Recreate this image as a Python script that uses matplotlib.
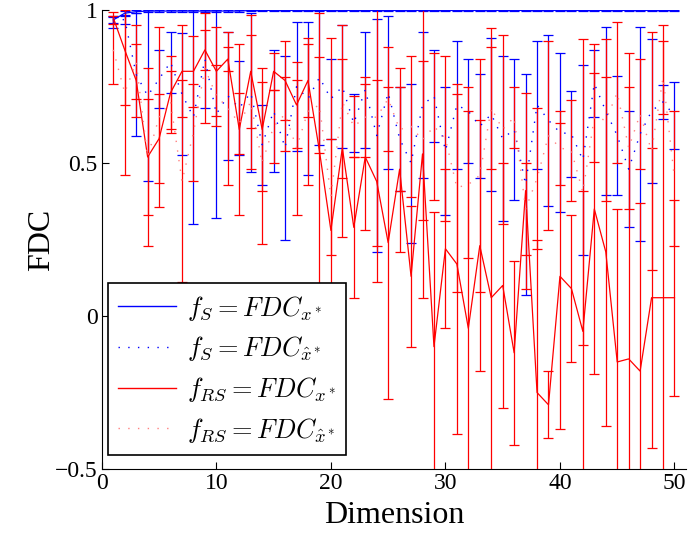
import numpy as np
import matplotlib.pyplot as plt
from matplotlib.lines import Line2D

# =========================
# DATA
# =========================
dims = np.arange(1, 51)

# f_S = FDC_{x*}
fs_x = [0.968, 0.99, 0.995, 0.997, 0.997, 0.997, 0.997, 0.997, 0.997, 0.997,
        0.997, 0.997] + [0.999] * 38
fs_x_err = [0.01, 0.008, 0.005, 0.003, 0.003, 0.003, 0.003, 0.003, 0.003, 0.003,
            0.003, 0.003] + [0.001] * 38

# f_S = FDC_{x_hat*}
fs_xh = [0.96, 0.97, 0.79, 0.72, 0.775, 0.83, 0.725, 0.65, 0.84, 0.66,
         0.72, 0.68, 0.73, 0.56, 0.67, 0.55, 0.75, 0.71, 0.78, 0.71,
         0.75, 0.63, 0.74, 0.59, 0.73, 0.58, 0.50, 0.69, 0.72, 0.54,
         0.69, 0.67, 0.62, 0.66, 0.58, 0.61, 0.43, 0.69, 0.64, 0.60,
         0.595, 0.51, 0.76, 0.67, 0.59, 0.48, 0.595, 0.67, 0.70, 0.655]
fs_xh_err = [0.02, 0.015, 0.20, 0.28, 0.094, 0.10, 0.20, 0.35, 0.16, 0.34,
             0.21, 0.155, 0.26, 0.13, 0.20, 0.30, 0.21, 0.25, 0.22, 0.13,
             0.20, 0.095, 0.19, 0.38, 0.25, 0.17, 0.26, 0.24, 0.15, 0.21,
             0.21, 0.17, 0.17, 0.25, 0.27, 0.23, 0.36, 0.21, 0.28, 0.26,
             0.14, 0.31, 0.11, 0.275, 0.195, 0.19, 0.35, 0.235, 0.055, 0.11]

# f_RS = FDC_{x*}
frs_x = [0.975, 0.87, 0.77, 0.52, 0.58, 0.73, 0.80, 0.80, 0.87, 0.80,
         0.84, 0.61, 0.80, 0.61, 0.80, 0.77, 0.69, 0.77, 0.54, 0.28,
         0.55, 0.29, 0.52, 0.44, 0.24, 0.48, 0.13, 0.53, -0.10, 0.22,
         0.17, -0.04, 0.23, 0.06, 0.10, -0.12, 0.41, -0.25, -0.29, 0.13,
         0.09, -0.05, 0.35, 0.21, -0.15, -0.14, -0.18, 0.06, 0.06, 0.06]
frs_x_err = [0.02, 0.18, 0.12, 0.29, 0.145, 0.12, 0.15, 0.117, 0.065, 0.145,
             0.04, 0.28, 0.185, 0.20, 0.06, 0.13, 0.14, 0.12, 0.45, 0.63,
             0.29, 0.23, 0.24, 0.33, 0.51, 0.27, 0.23, 0.47, 0.44, 0.26,
             0.555, 0.79, 0.41, 0.88, 0.40, 0.30, 0.32, 0.50, 0.11, 0.50,
             0.24, 0.46, 0.54, 0.57, 0.50, 1.0, 0.55, 0.49, 0.89, 0.32]

# f_RS = FDC_{x_hat*}
frs_xh = [0.87, 0.73, 0.83, 0.52, 0.65, 0.70, 0.44, 0.60, 0.81, 0.72,
          0.68, 0.63, 0.70, 0.50, 0.62, 0.66, 0.55, 0.67, 0.69, 0.39,
          0.70, 0.62, 0.65, 0.65, 0.71, 0.61, 0.62, 0.575, 0.62, 0.58,
          0.42, 0.43, 0.46, 0.68, 0.61, 0.65, 0.35, 0.45, 0.59, 0.55,
          0.54, 0.405, 0.65, 0.64, 0.73, 0.55, 0.66, 0.54, 0.78, 0.45]
frs_xh_err = [0.11, 0.27, 0.12, 0.19, 0.295, 0.10, 0.33, 0.16, 0.18, 0.10,
              0.25, 0.10, 0.22, 0.265, 0.12, 0.12, 0.22, 0.24, 0.156, 0.19,
              0.25, 0.10, 0.13, 0.42, 0.17, 0.20, 0.23, 0.26, 0.24, 0.27,
              0.34, 0.24, 0.38, 0.20, 0.31, 0.10, 0.15, 0.23, 0.31, 0.12,
              0.165, 0.50, 0.145, 0.265, 0.23, 0.20, 0.18, 0.39, 0.12, 0.22]

labels = [r'$f_S = FDC_{x^*}$', r'$f_S = FDC_{\hat{x}^*}$',
          r'$f_{RS} = FDC_{x^*}$', r'$f_{RS} = FDC_{\hat{x}^*}$']

# =========================
# PLOT
# =========================
plt.rcParams['font.family'] = ['Liberation Serif', 'DejaVu Serif']
plt.rcParams['mathtext.fontset'] = 'cm'

fig = plt.figure(figsize=(6.88, 5.33), dpi=100)
ax = fig.add_axes([0.148, 0.12, 0.849, 0.861])

dotted = (0, (1, 6))
pink = (1, 0.5, 0.5)
kw = dict(capsize=3.5, elinewidth=0.9, capthick=0.9)
ax.errorbar(dims, fs_x, yerr=fs_x_err, color='blue', linestyle='-',
            linewidth=0.9, **kw)
ax.errorbar(dims, fs_xh, yerr=fs_xh_err, color='blue', linestyle=dotted,
            linewidth=1.0, **kw)
ax.errorbar(dims, frs_x, yerr=frs_x_err, color='red', linestyle='-',
            linewidth=0.9, **kw)
ax.errorbar(dims, frs_xh, yerr=frs_xh_err, color=pink, ecolor='red',
            linestyle=dotted, linewidth=1.0, **kw)

ax.set_xlim(0, 51)
ax.set_ylim(-0.5, 1)
ax.set_xticks([0, 10, 20, 30, 40, 50])
ax.set_yticks([-0.5, 0, 0.5, 1])
ax.set_yticklabels(['\u22120.5', '0', '0.5', '1'])
ax.spines['top'].set_visible(False)
ax.spines['right'].set_visible(False)
ax.tick_params(direction='in', length=5, labelsize=17, pad=3)

ax.set_xlabel('Dimension', fontsize=23, labelpad=5)
ax.set_ylabel('FDC', fontsize=23, labelpad=-1)

# legend with plain line handles
handles = [Line2D([], [], color='blue', lw=1.0),
           Line2D([], [], color='blue', lw=1.0, linestyle=dotted),
           Line2D([], [], color='red', lw=1.0),
           Line2D([], [], color=pink, lw=1.0, linestyle=dotted)]
leg = ax.legend(handles, labels, loc='lower left', bbox_to_anchor=(0.01, 0.03),
                fontsize=19, fancybox=False, edgecolor='black',
                framealpha=1, handlelength=2.2, handletextpad=0.4,
                labelspacing=0.45, borderaxespad=0)
leg.get_frame().set_linewidth(1.2)

plt.savefig('out.png', dpi=100)
